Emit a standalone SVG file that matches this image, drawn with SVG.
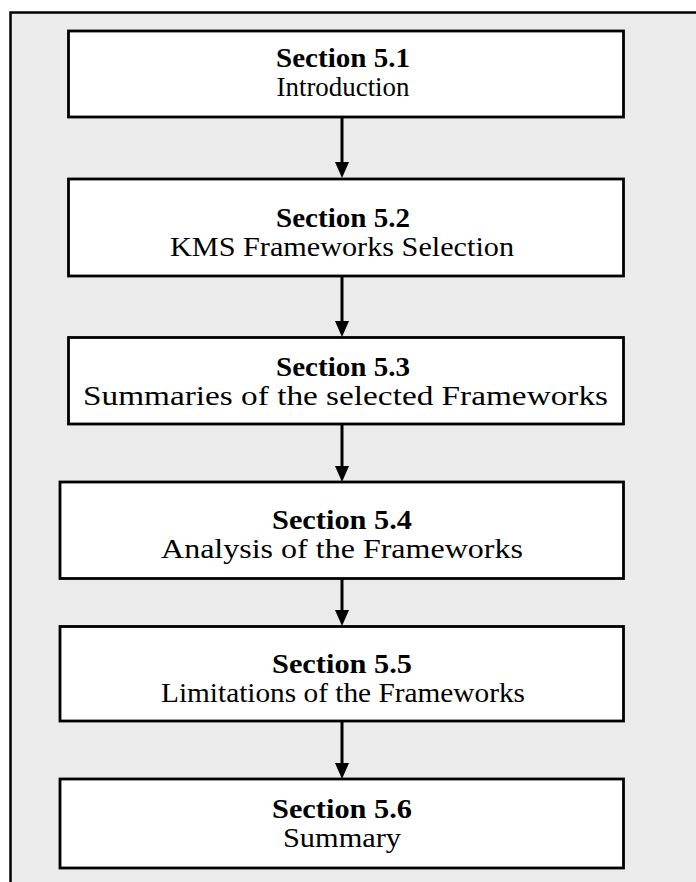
<svg xmlns="http://www.w3.org/2000/svg" width="696" height="882" viewBox="0 0 696 882">
  <defs>
    <style>
      .frame { fill: #ebebeb; stroke: #000; stroke-width: 2.5; }
      .box { fill: #fff; stroke: #000; stroke-width: 2.8; }
      .title { font-family: "Liberation Serif", "Times New Roman", serif; font-weight: bold; font-size: 28px; text-anchor: middle; fill: #000; }
      .sub { font-family: "Liberation Serif", "Times New Roman", serif; font-size: 28px; text-anchor: middle; fill: #000; }
      .conn { stroke: #000; stroke-width: 3; fill: none; }
      .head { fill: #000; }
    </style>
  </defs>

  <!-- background frame -->
  <rect class="frame" x="10.5" y="12.5" width="700" height="880"/>

  <g id="s51">
    <rect class="box" x="68.5" y="31" width="555" height="86"/>
    <text class="title" x="343" y="67" textLength="134" lengthAdjust="spacingAndGlyphs">Section 5.1</text>
    <text class="sub" x="343" y="96" textLength="133" lengthAdjust="spacingAndGlyphs">Introduction</text>
  </g>
  <g id="s52">
    <rect class="box" x="68.5" y="179" width="555" height="97"/>
    <text class="title" x="343" y="227" textLength="134" lengthAdjust="spacingAndGlyphs">Section 5.2</text>
    <text class="sub" x="342" y="256" textLength="344" lengthAdjust="spacingAndGlyphs">KMS Frameworks Selection</text>
  </g>
  <g id="s53">
    <rect class="box" x="68.5" y="337.5" width="555" height="86.5"/>
    <text class="title" x="343" y="376" textLength="134" lengthAdjust="spacingAndGlyphs">Section 5.3</text>
    <text class="sub" x="345.5" y="405" textLength="525" lengthAdjust="spacingAndGlyphs">Summaries of the selected Frameworks</text>
  </g>
  <g id="s54">
    <rect class="box" x="60" y="482" width="563.5" height="96.5"/>
    <text class="title" x="342" y="529" textLength="140" lengthAdjust="spacingAndGlyphs">Section 5.4</text>
    <text class="sub" x="342" y="558" textLength="362" lengthAdjust="spacingAndGlyphs">Analysis of the Frameworks</text>
  </g>
  <g id="s55">
    <rect class="box" x="60" y="626.5" width="563.5" height="94.5"/>
    <text class="title" x="342" y="673" textLength="140" lengthAdjust="spacingAndGlyphs">Section 5.5</text>
    <text class="sub" x="343" y="702" textLength="364" lengthAdjust="spacingAndGlyphs">Limitations of the Frameworks</text>
  </g>
  <g id="s56">
    <rect class="box" x="60" y="779" width="563.5" height="89"/>
    <text class="title" x="342" y="818" textLength="140" lengthAdjust="spacingAndGlyphs">Section 5.6</text>
    <text class="sub" x="342" y="847" textLength="118" lengthAdjust="spacingAndGlyphs">Summary</text>
  </g>

  <g id="connectors">
    <line class="conn" x1="342" y1="117" x2="342" y2="164"/>
    <polygon class="head" points="335,162 349,162 342,178"/>
    <line class="conn" x1="342" y1="276" x2="342" y2="323"/>
    <polygon class="head" points="335,321 349,321 342,337"/>
    <line class="conn" x1="342" y1="424" x2="342" y2="468"/>
    <polygon class="head" points="335,466 349,466 342,482"/>
    <line class="conn" x1="342" y1="578.5" x2="342" y2="612"/>
    <polygon class="head" points="335,610 349,610 342,626"/>
    <line class="conn" x1="342" y1="721" x2="342" y2="765"/>
    <polygon class="head" points="335,763 349,763 342,779"/>
  </g>
</svg>
